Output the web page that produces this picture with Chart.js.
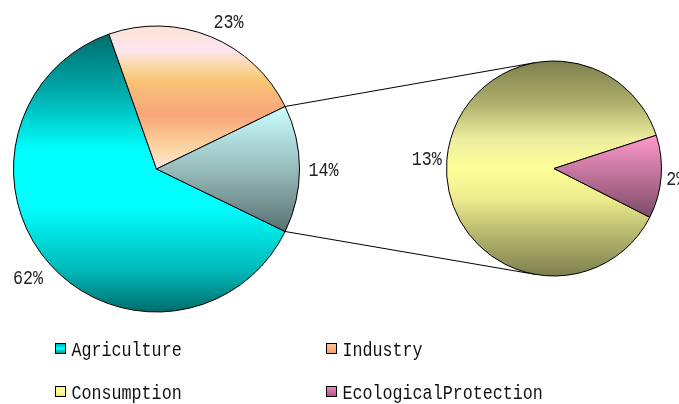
<!DOCTYPE html>
<html>
<head>
<meta charset="utf-8">
<script src="https://cdn.jsdelivr.net/npm/chart.js@4/dist/chart.umd.min.js"></script>
<style>
  html, body { margin: 0; padding: 0; background: #fff; }
  #wrap { position: relative; width: 679px; height: 404px; overflow: hidden; }
  #wrap canvas { position: absolute; left: 0; top: 0; }
</style>
</head>
<body>
<div id="wrap">
  <canvas id="mainPie" width="679" height="404"></canvas>
  <canvas id="subPie" width="679" height="404"></canvas>
</div>
<script>
// Shares of water use by sector (%)
const categories = ['Agriculture', 'Industry', 'Consumption', 'EcologicalProtection'];
const shares = [62.4, 23.2, 12.6, 1.8];

// Sectors kept on the primary pie, and sectors broken out into the secondary pie
const primaryIdx = [0, 1];
const secondaryIdx = [2, 3];

const primaryValues = primaryIdx.map(i => shares[i]).concat([secondaryIdx.reduce((s, i) => s + shares[i], 0)]);
const secondaryValues = secondaryIdx.map(i => shares[i]);
const grandTotal = shares.reduce((a, b) => a + b, 0);

// Gradient stops per slice (top to bottom of each slice)
const STOPS = {
  Agriculture: [[0, '#006c6c'], [0.2, '#00a8a8'], [0.42, '#00ffff'], [0.62, '#00ffff'], [0.85, '#00b8b8'], [1, '#006c6c']],
  Industry: [[0, '#fbe3d3'], [0.17, '#fde5f0'], [0.3, '#f9d59c'], [0.38, '#f8c574'], [0.55, '#f8ae7c'], [0.62, '#f8a679'],
             [0.8, '#fbcb96'], [0.9, '#fddcb0'], [1, '#fde4e8']],
  Split: [[0, '#ccffff'], [0.5, '#98bcbc'], [1, '#587070']],
  Consumption: [[0, '#7e7e4e'], [0.2, '#b0b06c'], [0.36, '#ececa0'], [0.5, '#ffff99'], [0.64, '#ecec8e'], [0.8, '#b8b870'], [1, '#7e7e4e']],
  EcologicalProtection: [[0, '#ff99cc'], [1, '#7c4a66']]
};
const LEGEND_STOPS = {
  Agriculture: [[0, '#00a0a0'], [0.5, '#00ffff'], [1, '#008080']],
  Industry: [[0, '#ffc8a0'], [0.5, '#ffb27e'], [1, '#f8a070']],
  Consumption: [[0, '#f4f490'], [0.5, '#ffff99'], [1, '#e0e080']],
  EcologicalProtection: [[0, '#f090c0'], [0.5, '#d070a0'], [1, '#a05080']]
};

const FONT = '16.7px "Liberation Mono", "DejaVu Sans Mono", monospace';
const STRETCH_Y = 1.25;
const CAP_H = 13.6;

// Rotations (degrees clockwise from top): split slice of the primary pie centred on the right
const primaryRotation = 90 + (primaryValues[2] / grandTotal) * 180;
const secondaryRotation = 117;

function stretchedText(ctx, text, x, baseline, align) {
  ctx.save();
  ctx.font = FONT;
  ctx.translate(x, baseline);
  ctx.scale(1, STRETCH_Y);
  ctx.textAlign = align;
  ctx.textBaseline = 'alphabetic';
  ctx.fillText(text, 0, 0);
  ctx.restore();
}

// Vertical gradient spanning the slice's own bounding box
function sliceGradient(context, stops, rotationDeg) {
  const chart = context.chart;
  const area = chart.chartArea;
  if (!area) return stops[0][1];
  const data = chart.data.datasets[context.datasetIndex].data;
  const total = data.reduce((a, b) => a + b, 0);
  const rot = rotationDeg * Math.PI / 180 - Math.PI / 2;
  let before = 0;
  for (let i = 0; i < context.dataIndex; i++) before += data[i];
  const a0 = rot + before / total * 2 * Math.PI;
  const a1 = a0 + data[context.dataIndex] / total * 2 * Math.PI;
  const cy = (area.top + area.bottom) / 2;
  const r = Math.min(area.width, area.height) / 2;
  const ys = [cy, cy + r * Math.sin(a0), cy + r * Math.sin(a1)];
  [-Math.PI / 2, Math.PI / 2].forEach(k => {
    for (let m = -2; m <= 2; m++) {
      const a = k + m * 2 * Math.PI;
      if (a >= a0 && a <= a1) ys.push(cy + r * Math.sin(a));
    }
  });
  const y0 = Math.min(...ys), y1 = Math.max(...ys);
  const g = chart.ctx.createLinearGradient(0, y0, 0, y1);
  stops.forEach(([o, c]) => g.addColorStop(o, c));
  return g;
}

// Percentage labels just outside each slice
const percentLabels = {
  id: 'percentLabels',
  afterDatasetsDraw(chart, args, opts) {
    const ctx = chart.ctx;
    const meta = chart.getDatasetMeta(0);
    const data = chart.data.datasets[0].data;
    const gap = opts.gap ?? 9;
    ctx.save();
    ctx.font = FONT;
    ctx.fillStyle = '#222';
    meta.data.forEach((arc, i) => {
      const text = Math.round(data[i] / grandTotal * 100) + '%';
      const w = ctx.measureText(text).width;
      const mid = (arc.startAngle + arc.endAngle) / 2;
      const c = Math.cos(mid), s = Math.sin(mid);
      const d = arc.outerRadius + gap;
      const ax = arc.x + c * d, ay = arc.y + s * d;
      const clamp = v => Math.max(-1, Math.min(1, v));
      const cx = ax + clamp(c * 2.5) * w / 2;
      const cy = ay + clamp(s * 2.5) * CAP_H / 2;
      stretchedText(ctx, text, cx, cy + CAP_H / 2, 'center');
    });
    ctx.restore();
  }
};

// Legend in two columns below the pies
const legendGrid = {
  id: 'legendGrid',
  afterDraw(chart) {
    const ctx = chart.ctx;
    const cols = [55, 326];
    const rows = [343, 386];
    categories.forEach((name, i) => {
      const x = cols[i % 2], y = rows[Math.floor(i / 2)];
      const g = ctx.createLinearGradient(0, y, 0, y + 11);
      LEGEND_STOPS[name].forEach(([o, c]) => g.addColorStop(o, c));
      ctx.save();
      ctx.fillStyle = g;
      ctx.fillRect(x, y, 11, 11);
      ctx.strokeStyle = '#000';
      ctx.lineWidth = 1;
      ctx.strokeRect(x + 0.5, y + 0.5, 10, 10);
      ctx.fillStyle = '#111';
      stretchedText(ctx, name, x + 16.5, y + 12.8, 'left');
      ctx.restore();
    });
  }
};

const mainNames = [categories[0], categories[1], 'Split'];
const mainChart = new Chart(document.getElementById('mainPie'), {
  type: 'pie',
  data: {
    labels: [categories[0], categories[1], secondaryIdx.map(i => categories[i]).join(' + ')],
    datasets: [{
      data: primaryValues,
      backgroundColor: ctx => sliceGradient(ctx, STOPS[mainNames[ctx.dataIndex]], primaryRotation),
      borderColor: '#000',
      borderWidth: 1
    }]
  },
  options: {
    responsive: false,
    animation: false,
    events: [],
    rotation: primaryRotation,
    layout: { padding: { left: 13, top: 25, right: 379, bottom: 91 } },
    plugins: { legend: { display: false }, tooltip: { enabled: false }, percentLabels: { gap: 9 } }
  },
  plugins: [percentLabels, legendGrid]
});

// Connector lines from the split slice to the secondary pie (tangent to its outline)
const connectors = {
  id: 'connectors',
  beforeDatasetsDraw(chart) {
    const src = mainChart.getDatasetMeta(0).data[2];
    const dst = chart.getDatasetMeta(0).data[0];
    if (!src || !dst) return;
    const ends = [src.startAngle, src.endAngle].map(a => ({
      x: src.x + src.outerRadius * Math.cos(a),
      y: src.y + src.outerRadius * Math.sin(a)
    }));
    const ctx = chart.ctx;
    ctx.save();
    ctx.strokeStyle = '#000';
    ctx.lineWidth = 1;
    ends.forEach(p => {
      const dx = p.x - dst.x, dy = p.y - dst.y;
      const dist = Math.hypot(dx, dy);
      const beta = Math.atan2(dy, dx);
      const alpha = Math.acos(dst.outerRadius / dist);
      const cands = [beta + alpha, beta - alpha].map(a => ({
        x: dst.x + dst.outerRadius * Math.cos(a),
        y: dst.y + dst.outerRadius * Math.sin(a)
      }));
      cands.sort((u, v) => u.y - v.y);
      const t = p.y < dst.y ? cands[0] : cands[1];
      ctx.beginPath();
      ctx.moveTo(p.x, p.y);
      ctx.lineTo(t.x, t.y);
      ctx.stroke();
    });
    ctx.restore();
  }
};

const subNames = secondaryIdx.map(i => categories[i]);
const subChart = new Chart(document.getElementById('subPie'), {
  type: 'pie',
  data: {
    labels: subNames,
    datasets: [{
      data: secondaryValues,
      backgroundColor: ctx => sliceGradient(ctx, STOPS[subNames[ctx.dataIndex]], secondaryRotation),
      borderColor: '#000',
      borderWidth: 1
    }]
  },
  options: {
    responsive: false,
    animation: false,
    events: [],
    rotation: secondaryRotation,
    layout: { padding: { left: 446, top: 60, right: 17, bottom: 127 } },
    plugins: { legend: { display: false }, tooltip: { enabled: false }, percentLabels: { gap: 5 } }
  },
  plugins: [connectors, percentLabels]
});
</script>
</body>
</html>
